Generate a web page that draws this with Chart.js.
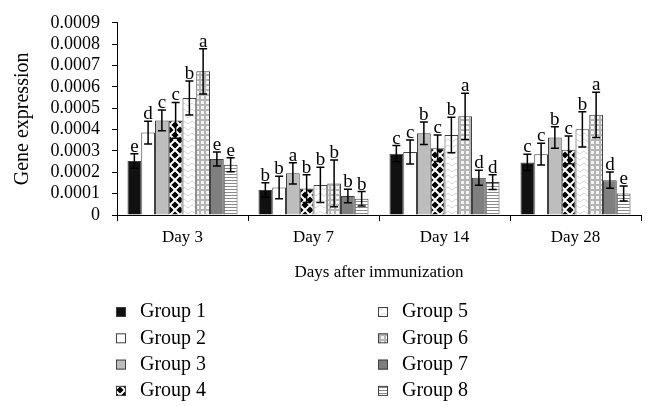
<!DOCTYPE html>
<html>
<head>
<meta charset="utf-8">
<script src="https://cdn.jsdelivr.net/npm/chart.js@4"></script>
<style>
  html, body { margin: 0; padding: 0; background: #fff; }
  #wrap { width: 647px; height: 406px; }
</style>
</head>
<body>
<div id="wrap"><canvas id="geneChart" width="647" height="406"></canvas></div>
<script>
const days = ['Day 3', 'Day 7', 'Day 14', 'Day 28'];
const groupNames = ['Group 1', 'Group 2', 'Group 3', 'Group 4', 'Group 5', 'Group 6', 'Group 7', 'Group 8'];
const yTicks = [0, 0.0001, 0.0002, 0.0003, 0.0004, 0.0005, 0.0006, 0.0007, 0.0008, 0.0009];

const group1 = [0.000253, 0.000117, 0.000287, 0.000246];
const group2 = [0.000386, 0.000129, 0.000295, 0.000285];
const group3 = [0.000443, 0.000195, 0.000383, 0.000363];
const group4 = [0.000443, 0.000124, 0.000313, 0.000305];
const group5 = [0.000548, 0.000141, 0.000375, 0.000401];
const group6 = [0.000673, 0.000148, 0.000462, 0.000469];
const group7 = [0.000262, 0.000089, 0.000174, 0.000163];
const group8 = [0.000235, 0.000076, 0.000154, 0.000101];

const group1Err = [0.000034, 0.000034, 0.000038, 0.000038];
const group2Err = [0.000053, 0.000053, 0.000056, 0.000051];
const group3Err = [0.000049, 0.000050, 0.000053, 0.000050];
const group4Err = [0.000084, 0.000065, 0.000062, 0.000065];
const group5Err = [0.000080, 0.000083, 0.000083, 0.000083];
const group6Err = [0.000106, 0.000109, 0.000108, 0.000106];
const group7Err = [0.000033, 0.000032, 0.000035, 0.000038];
const group8Err = [0.000033, 0.000034, 0.000035, 0.000035];

const group1Letters = ['e', 'b', 'c', 'c'];
const group2Letters = ['d', 'b', 'c', 'c'];
const group3Letters = ['c', 'a', 'b', 'b'];
const group4Letters = ['c', 'b', 'c', 'c'];
const group5Letters = ['b', 'b', 'b', 'b'];
const group6Letters = ['a', 'b', 'a', 'a'];
const group7Letters = ['e', 'b', 'd', 'd'];
const group8Letters = ['e', 'b', 'd', 'e'];

const allValues = [group1, group2, group3, group4, group5, group6, group7, group8];
const allErrors = [group1Err, group2Err, group3Err, group4Err, group5Err, group6Err, group7Err, group8Err];
const allLetters = [group1Letters, group2Letters, group3Letters, group4Letters, group5Letters, group6Letters, group7Letters, group8Letters];

const SERIF = '"Liberation Serif", "Times New Roman", serif';

// small tiles for the hatched fills
function makePattern(w, h, draw) {
    const c = document.createElement('canvas');
    c.width = w;
    c.height = h;
    const p = c.getContext('2d');
    draw(p, w, h);
    return p.createPattern(c, 'repeat');
}

const diamondFill = makePattern(10, 10, (p, w, h) => {
    p.fillStyle = '#fff';
    p.fillRect(0, 0, w, h);
    p.fillStyle = '#000';
    const dia = (cx, cy, r) => {
        p.beginPath();
        p.moveTo(cx, cy - r);
        p.lineTo(cx + r, cy);
        p.lineTo(cx, cy + r);
        p.lineTo(cx - r, cy);
        p.closePath();
        p.fill();
    };
    dia(5, 5, 3.6);
    [[0, 0], [10, 0], [0, 10], [10, 10]].forEach(([x, y]) => dia(x, y, 3.6));
});

const zigzagFill = makePattern(8, 6, (p, w, h) => {
    p.fillStyle = '#fff';
    p.fillRect(0, 0, w, h);
    p.strokeStyle = '#d6d6d6';
    p.lineWidth = 1;
    p.beginPath();
    p.moveTo(0, 1);
    p.lineTo(4, 4);
    p.lineTo(8, 1);
    p.stroke();
});

const gridFill = makePattern(5, 5, (p, w, h) => {
    p.fillStyle = '#b5b5b5';
    p.fillRect(0, 0, w, h);
    p.fillStyle = '#f4f4f4';
    p.fillRect(1, 1, 3, 3);
});

const stripeFill = makePattern(4, 3, (p, w, h) => {
    p.fillStyle = '#fff';
    p.fillRect(0, 0, w, h);
    p.fillStyle = '#8a8a8a';
    p.fillRect(0, 0, w, 1);
});

const groupFills = ['#111111', '#ffffff', '#bdbdbd', diamondFill, zigzagFill, gridFill, '#7f7f7f', stripeFill];

const errorBars = {
    id: 'errorBars',
    afterDatasetsDraw(chart) {
        const ctx = chart.ctx;
        const y = chart.scales.y;
        ctx.save();
        chart.data.datasets.forEach((ds, i) => {
            const meta = chart.getDatasetMeta(i);
            meta.data.forEach((bar, j) => {
                const v = ds.data[j];
                const e = allErrors[i][j];
                const top = y.getPixelForValue(v + e);
                const bottom = y.getPixelForValue(v - e);
                const x = bar.x;
                ctx.strokeStyle = '#000';
                ctx.lineWidth = 1.5;
                ctx.beginPath();
                ctx.moveTo(x, top);
                ctx.lineTo(x, bottom);
                ctx.moveTo(x - 4, top);
                ctx.lineTo(x + 4, top);
                ctx.moveTo(x - 4, bottom);
                ctx.lineTo(x + 4, bottom);
                ctx.stroke();

                ctx.fillStyle = '#000';
                ctx.font = '19px ' + SERIF;
                ctx.textAlign = 'center';
                ctx.textBaseline = 'alphabetic';
                ctx.fillText(allLetters[i][j], x, top - 2);
            });
        });
        ctx.restore();
    }
};

// legend in two columns, like the original
const columnLegend = {
    id: 'columnLegend',
    afterDraw(chart) {
        const ctx = chart.ctx;
        ctx.save();
        ctx.font = '20px ' + SERIF;
        ctx.textBaseline = 'middle';
        ctx.textAlign = 'left';
        chart.data.datasets.forEach((ds, i) => {
            const col = Math.floor(i / 4);
            const row = i % 4;
            const bx = col === 0 ? 116 : 378;
            const cy = 312 + row * 26.3;
            ctx.fillStyle = ds.backgroundColor;
            ctx.fillRect(bx, cy - 5, 10, 10);
            ctx.strokeStyle = '#404040';
            ctx.lineWidth = 1;
            ctx.strokeRect(bx + 0.5, cy - 4.5, 9, 9);
            ctx.fillStyle = '#000';
            ctx.fillText(ds.label, bx + 24, cy);
        });
        ctx.restore();
    }
};

Chart.defaults.font.family = SERIF;
Chart.defaults.color = '#000';

const ctx = document.getElementById('geneChart').getContext('2d');
new Chart(ctx, {
    type: 'bar',
    data: {
        labels: days,
        datasets: groupNames.map((name, i) => ({
            label: name,
            data: allValues[i],
            backgroundColor: groupFills[i],
            borderColor: '#404040',
            borderWidth: 1,
            categoryPercentage: 0.84,
            barPercentage: 1
        }))
    },
    options: {
        responsive: false,
        animation: false,
        layout: { padding: { top: 12, right: 6, bottom: 121, left: 0 } },
        plugins: {
            legend: { display: false },
            tooltip: { enabled: false }
        },
        scales: {
            x: {
                grid: { offset: true, drawOnChartArea: false, drawTicks: true, tickLength: 6, color: '#000' },
                border: { display: true, color: '#000', width: 1 },
                ticks: { font: { size: 17 }, padding: 6, maxRotation: 0 },
                title: { display: true, text: 'Days after immunization', font: { size: 17 }, padding: { top: 0, bottom: 2 } },
                afterFit: (scale) => { scale.height = 70; }
            },
            y: {
                min: 0,
                max: 0.0009,
                afterBuildTicks: (scale) => { scale.ticks = yTicks.map(v => ({ value: v })); },
                grid: { drawOnChartArea: false, drawTicks: true, tickLength: 5, color: '#000' },
                border: { display: true, color: '#000', width: 1 },
                ticks: {
                    font: { size: 18 },
                    padding: 12,
                    autoSkip: false,
                    callback: (v) => v === 0 ? '0' : Number(v).toFixed(4)
                },
                title: { display: true, text: 'Gene expression', font: { size: 20 }, padding: { top: 11, bottom: 0 } },
                afterFit: (scale) => { scale.width = 117; }
            }
        }
    },
    plugins: [errorBars, columnLegend]
});
</script>
</body>
</html>
